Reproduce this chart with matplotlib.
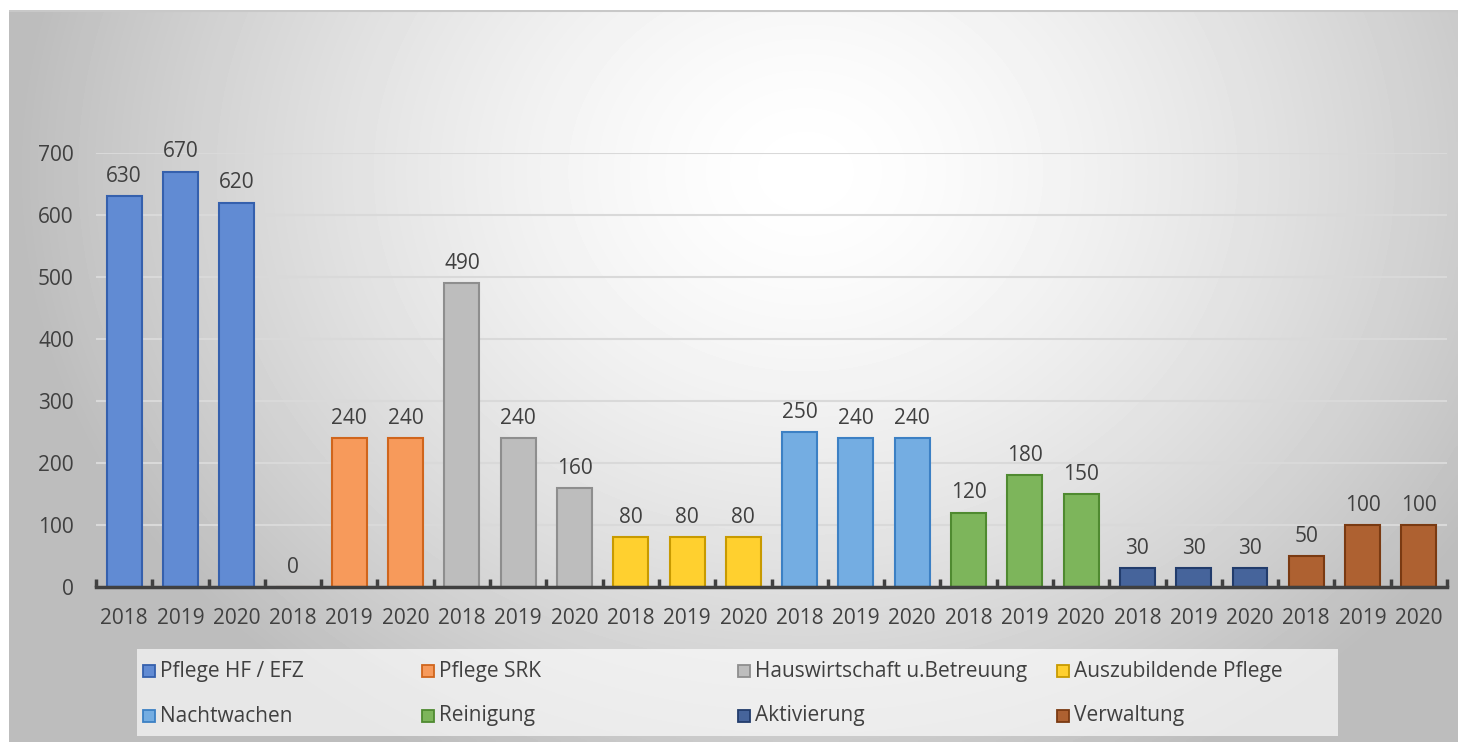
import numpy as np
import matplotlib
matplotlib.use("Agg")
import matplotlib.pyplot as plt
from matplotlib.patches import Rectangle

plt.rcParams['font.family'] = ['Open Sans', 'DejaVu Sans']

# Data
series = ['Pflege HF / EFZ', 'Pflege SRK', 'Hauswirtschaft u.Betreuung', 'Auszubildende Pflege',
          'Nachtwachen', 'Reinigung', 'Aktivierung', 'Verwaltung']
years = ['2018', '2019', '2020']
values = [
    [630, 670, 620],
    [0, 240, 240],
    [490, 240, 160],
    [80, 80, 80],
    [250, 240, 240],
    [120, 180, 150],
    [30, 30, 30],
    [50, 100, 100],
]
y_ticks = [0, 100, 200, 300, 400, 500, 600, 700]

fills = ['#618bd3', '#f79a5b', '#bdbdbd', '#ffd02f', '#74ade2', '#7db55b', '#46649b', '#ae6131']
edges = ['#3560ad', '#d0651c', '#8e8e8e', '#c89a00', '#3c80c4', '#4f8a30', '#223c6c', '#7a3a12']
text_col = '#404040'
fs = 15

W, H = 1458, 742
fig = plt.figure(figsize=(W / 100, H / 100), dpi=100)
fig.patch.set_facecolor('white')

# background radial gradient (chart area)
bg = fig.add_axes([9 / W, 0, 1 - 9 / W, 1 - 10 / H], zorder=0)
gx, gy = np.meshgrid(np.linspace(0, 1, 400), np.linspace(0, 1, 200))
r = np.sqrt((gx - 0.55) ** 2 + ((gy - 0.22) * 0.6) ** 2)
shade = np.clip(1 - 0.3 * (r / 0.6) ** 1.5, 0.74, 1.0)
bg.imshow(shade, cmap='gray', vmin=0, vmax=1, aspect='auto', extent=[0, 1, 1, 0],
          interpolation='bilinear')
bg.set_xlim(0, 1)
bg.set_ylim(1, 0)
bg.axis('off')
bg.plot([0, 1], [0.001, 0.001], color='#c8c8c8', lw=1.5)

# main axes
ax = fig.add_axes([96 / W, (H - 587) / H, (1447 - 96) / W, (587 - 153) / H], zorder=1)
ax.patch.set_alpha(0)

vals = [v for grp in values for v in grp]
labels = [y for _ in series for y in years]
cols = [c for c in fills for _ in years]
ecols = [c for c in edges for _ in years]
x = np.arange(len(vals))
bars = ax.bar(x, vals, width=0.62, color=cols, edgecolor=ecols, linewidth=1.5, zorder=3)

for xi, v in zip(x, vals):
    ax.text(xi, v + 15, str(v), ha='center', va='bottom', fontsize=fs, color=text_col,
            clip_on=False)

ax.set_xlim(-0.5, len(vals) - 0.5)
ax.set_ylim(0, 700)
ax.set_yticks(y_ticks)
ax.set_yticklabels([str(t) for t in y_ticks], fontsize=fs, color=text_col)
ax.tick_params(axis='y', length=0, pad=16)
ax.grid(axis='y', color='#d9d9d9', linewidth=1.5, zorder=0)
ax.set_axisbelow(True)

ax.set_xticks(x)
ax.set_xticklabels(labels, fontsize=fs, color=text_col)
ax.tick_params(axis='x', length=0, pad=15)
ax.set_xticks(np.arange(-0.5, len(vals), 1), minor=True)
ax.tick_params(axis='x', which='minor', direction='in', length=6, width=2.5, color=text_col)

for s in ['top', 'right', 'left']:
    ax.spines[s].set_visible(False)
ax.spines['bottom'].set_color(text_col)
ax.spines['bottom'].set_linewidth(2.5)
ax.spines['bottom'].set_zorder(4)

# legend (drawn by hand to mimic the Excel column layout)
lx0, lx1, ly0, ly1 = 137, 1338, 649, 736
fig.patches.append(Rectangle((lx0 / W, 1 - ly1 / H), (lx1 - lx0) / W, (ly1 - ly0) / H,
                             transform=fig.transFigure, facecolor='white', alpha=0.65,
                             edgecolor='none', zorder=2))
col_x = [143, 422, 738, 1057]
row_y = [671, 716]
for i, name in enumerate(series):
    cx = col_x[i % 4]
    cy = row_y[i // 4]
    fig.patches.append(Rectangle((cx / W, 1 - (cy + 6) / H), 12 / W, 12 / H,
                                 transform=fig.transFigure, facecolor=fills[i],
                                 edgecolor=edges[i], linewidth=1.3, zorder=3))
    fig.text((cx + 17) / W, 1 - cy / H, name, ha='left', va='center', fontsize=fs,
             color=text_col, zorder=3)

fig.savefig('out.png', dpi=100)
